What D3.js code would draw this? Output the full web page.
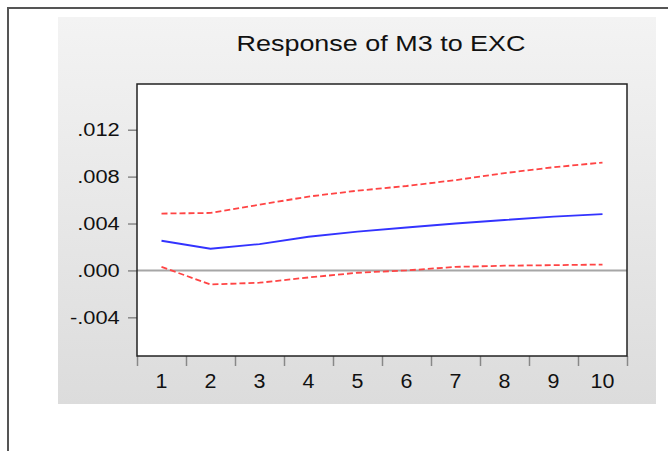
<!DOCTYPE html>
<html>
  <head>
    <meta charset="utf-8">
    <title>Response of M3 to EXC</title>
    <script src="https://cdn.jsdelivr.net/npm/d3@7"></script>
    <style type="text/css">

html, body {
  margin: 0;
  padding: 0;
  background: #fff;
}

svg {
  display: block;
  font-family: "Liberation Sans", Arial, sans-serif;
}

    </style>
  </head>
  <body>
    <script type="text/javascript">

var title = "Response of M3 to EXC";
var periods = [1, 2, 3, 4, 5, 6, 7, 8, 9, 10];
var response = [0.00253, 0.00185, 0.00225, 0.00287, 0.00330, 0.00366, 0.00400, 0.00430, 0.00458, 0.00480];
var upper = [0.00485, 0.00490, 0.00560, 0.00630, 0.00680, 0.00720, 0.00770, 0.00830, 0.00880, 0.00920];
var lower = [0.00030, -0.00120, -0.00105, -0.00060, -0.00020, 0.00000, 0.00030, 0.00040, 0.00045, 0.00050];
var yTicks = [-0.004, 0.000, 0.004, 0.008, 0.012];

var width = 668, height = 451;
var plot = {left: 137, right: 627, top: 84, bottom: 356};

var svg = d3.select("body").append("svg")
    .attr("width", width)
    .attr("height", height);

// outer frame
svg.append("path")
    .attr("d", "M8," + height + "V8H" + width)
    .attr("fill", "none")
    .attr("stroke", "#555")
    .attr("stroke-width", 2);

// grey panel with soft gradient
var grad = svg.append("defs").append("linearGradient")
    .attr("id", "panel")
    .attr("x1", 0).attr("y1", 0).attr("x2", 0).attr("y2", 1);
grad.append("stop").attr("offset", "0%").attr("stop-color", "#f3f3f3");
grad.append("stop").attr("offset", "100%").attr("stop-color", "#dcdcdc");

svg.append("rect")
    .attr("x", 58)
    .attr("y", 17)
    .attr("width", 598)
    .attr("height", 387)
    .attr("fill", "url(#panel)");

svg.append("text")
    .attr("x", 381)
    .attr("y", 51)
    .attr("text-anchor", "middle")
    .attr("font-size", 22.5)
    .attr("textLength", 289)
    .attr("lengthAdjust", "spacingAndGlyphs")
    .attr("fill", "#111")
    .text(title);

var x = d3.scaleLinear()
    .domain([0.5, 10.5])
    .range([plot.left, plot.right]);

var y = d3.scaleLinear()
    .domain([-0.0073, 0.0159])
    .range([plot.bottom, plot.top]);

svg.append("rect")
    .attr("x", plot.left)
    .attr("y", plot.top)
    .attr("width", plot.right - plot.left)
    .attr("height", plot.bottom - plot.top)
    .attr("fill", "#fff");

// y axis
var yAxis = svg.append("g")
    .attr("transform", "translate(" + plot.left + ",0)")
    .call(d3.axisLeft(y)
      .tickValues(yTicks)
      .tickSize(9)
      .tickPadding(6)
      .tickFormat(function(d) {
        return d3.format(".3f")(d).replace("\u2212", "-").replace("0.", ".");
      }));

// x axis: ticks on period boundaries, labels centred on periods
var xAxis = svg.append("g")
    .attr("transform", "translate(0," + plot.bottom + ")")
    .call(d3.axisBottom(x)
      .tickValues(d3.range(0.5, 11, 1))
      .tickSize(10)
      .tickFormat(""));

svg.append("g")
    .selectAll("text")
    .data(periods)
  .enter().append("text")
    .attr("transform", function(d) {
      return "translate(" + x(d) + "," + (plot.bottom + 32) + ") scale(1.1,1)";
    })
    .attr("text-anchor", "middle")
    .attr("font-size", 19.5)
    .attr("fill", "#111")
    .text(function(d) { return d; });

[yAxis, xAxis].forEach(function(g) {
  g.select(".domain").remove();
  g.selectAll(".tick line").attr("stroke", "#888").attr("stroke-width", 1.5);
});

yAxis.selectAll(".tick text")
    .attr("font-size", 19)
    .attr("font-family", "Liberation Sans, Arial, sans-serif")
    .attr("fill", "#111")
    .attr("transform", "scale(1.15,1)");

// zero line
svg.append("line")
    .attr("x1", plot.left)
    .attr("x2", plot.right)
    .attr("y1", y(0))
    .attr("y2", y(0))
    .attr("stroke", "#a6a6a6")
    .attr("stroke-width", 2);

var line = d3.line()
    .x(function(d, i) { return x(periods[i]); })
    .y(function(d) { return y(d); });

svg.append("path")
    .datum(upper)
    .attr("d", line)
    .attr("fill", "none")
    .attr("stroke", "#ff4444")
    .attr("stroke-width", 1.8)
    .attr("stroke-dasharray", "6,3");

svg.append("path")
    .datum(lower)
    .attr("d", line)
    .attr("fill", "none")
    .attr("stroke", "#ff4444")
    .attr("stroke-width", 1.8)
    .attr("stroke-dasharray", "6,3");

svg.append("path")
    .datum(response)
    .attr("d", line)
    .attr("fill", "none")
    .attr("stroke", "#3333ff")
    .attr("stroke-width", 1.8);

// plot frame
svg.append("rect")
    .attr("x", plot.left)
    .attr("y", plot.top)
    .attr("width", plot.right - plot.left)
    .attr("height", plot.bottom - plot.top)
    .attr("fill", "none")
    .attr("stroke", "#222")
    .attr("stroke-width", 1.5);

    </script>
  </body>
</html>
